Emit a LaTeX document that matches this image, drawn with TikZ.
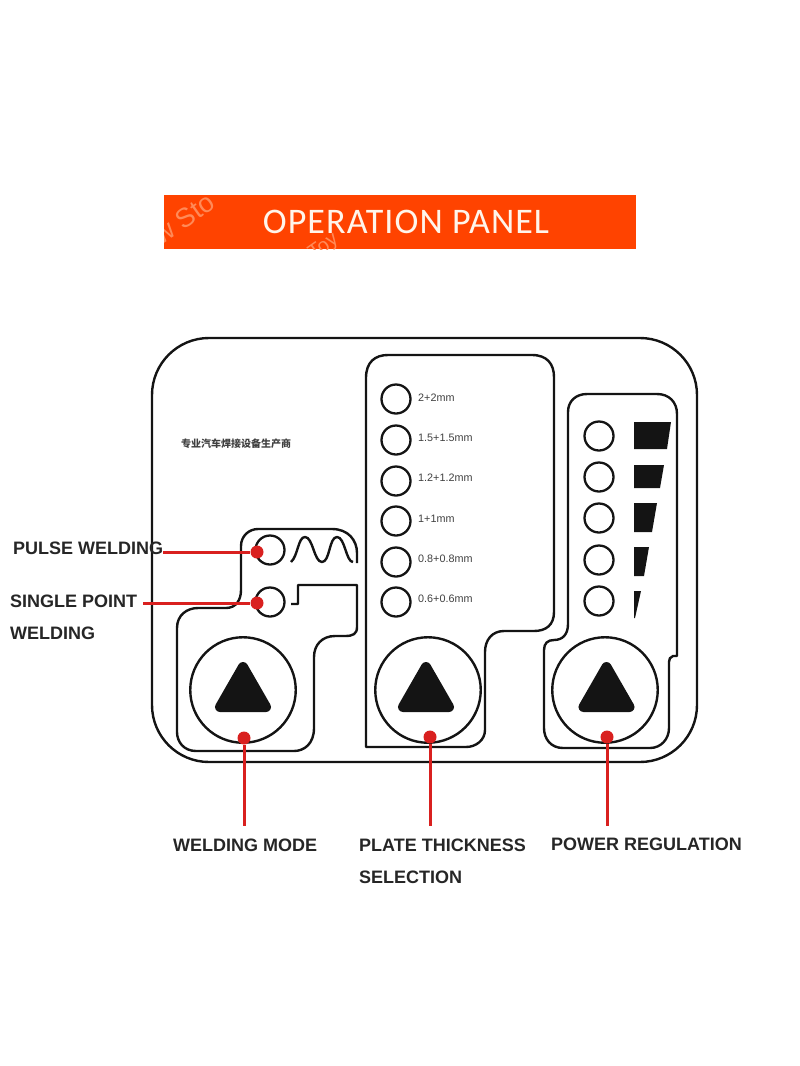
\documentclass[tikz,border=0pt]{standalone}
\usepackage{fontspec}
\setmainfont{Liberation Sans}
\newfontfamily\titlefont[LetterSpace=3]{Carlito}
\newfontfamily\markfont{Liberation Sans}
\newfontfamily\cjkfont{Noto Sans CJK SC}
\definecolor{pointer}{HTML}{D9201F}
\definecolor{banner}{HTML}{FF4300}
\definecolor{stamp}{HTML}{FF8A58}
\tikzset{
  panel/.style={draw=black!92,line width=2.4pt,line join=round},
  lamp/.style={circle,draw=black!92,line width=2.3pt,minimum size=29pt,inner sep=0pt},
  knob/.style={circle,draw=black!92,line width=2.4pt,minimum size=105.5pt,inner sep=0pt},
  tip/.style={circle,fill=pointer,minimum size=13pt,inner sep=0pt},
  lead/.style={draw=pointer,line width=3pt},
  callout/.style={font=\bfseries\fontsize{18}{21}\selectfont,text=black!85,anchor=west,inner sep=0pt},
  thick label/.style={font=\fontsize{10.8}{13}\selectfont,text=black!75,anchor=west,inner sep=0pt},
  bar/.style={fill=black!92,draw=none},
  triangle/.style={fill=black!92,draw=black!92,line width=10pt,line join=round},
  stamp text/.style={font=\markfont\fontsize{27}{29}\selectfont,text=stamp,rotate=35,anchor=west,inner sep=0pt}
}
\begin{document}
\begin{tikzpicture}[x=1pt,y=-1pt]
\useasboundingbox (0,0) rectangle (800,1066);

% title banner
\node[fill=banner,minimum width=472pt,minimum height=54pt,inner sep=0pt] (bannerbox) at (400,222) {};
\begin{scope}
  \clip (164,195) rectangle (636,249);
  \node[font=\markfont\fontsize{27}{29}\selectfont,text=stamp,rotate=35,anchor=west,inner sep=0pt] (stampa) at (156,238) {w Sto};
  \node[font=\markfont\fontsize{20}{22}\selectfont,text=stamp,rotate=35,anchor=west,inner sep=0pt] (stampb) at (311,256) {Toy};
\end{scope}
\node[font=\titlefont\fontsize{36}{38}\selectfont,text=white!92!orange] (title) at (406,222) {OPERATION PANEL};

% outer panel
\draw[panel] (152,395) arc[start angle=180,end angle=270,radius=57] -- (640,338)
  arc[start angle=270,end angle=360,radius=57] -- (697,705)
  arc[start angle=0,end angle=90,radius=57] -- (209,762)
  arc[start angle=90,end angle=180,radius=57] -- cycle;

% welding mode outline
\draw[panel] (357,563) -- (357,553) .. controls (357,540) and (348,529) .. (332,529)
  -- (258,529) .. controls (249,529) and (241,536) .. (241,546)
  -- (241,590) .. controls (241,600) and (236,608) .. (226,608)
  -- (198,608) .. controls (187,608) and (177,615) .. (177,628)
  -- (177,732) .. controls (177,742) and (184,751) .. (196,751)
  -- (294,751) .. controls (304,751) and (314,744) .. (314,728)
  -- (314,657) .. controls (314,645) and (322,636) .. (335,636)
  -- (345,636) .. controls (353,636) and (357,634) .. (357,627)
  -- (357,585) -- (298,585) -- (298,604) -- (291,604);

% pulse waveform
\draw[panel] (291,562) .. controls (298,556) and (298,537) .. (305,537)
  .. controls (313,537) and (314,562) .. (322,562)
  .. controls (330,562) and (329,537) .. (337,537)
  .. controls (345,537) and (346,562) .. (353,562);

% plate thickness outline
\draw[panel] (366,747) -- (366,378) .. controls (366,362) and (375,355) .. (388,355)
  -- (532,355) .. controls (547,355) and (554,364) .. (554,377)
  -- (554,612) .. controls (554,625) and (546,631) .. (534,631)
  -- (504,631) .. controls (492,631) and (485,640) .. (485,652)
  -- (485,730) .. controls (485,740) and (476,747) .. (466,747)
  -- cycle;

% power regulation outline
\draw[panel] (568,412) .. controls (568,401) and (576,394) .. (587,394)
  -- (657,394) .. controls (669,394) and (677,402) .. (677,414)
  -- (677,656) -- (673,656) .. controls (670,657) and (669,659) .. (669,662)
  -- (669,728) .. controls (669,739) and (661,748) .. (650,748)
  -- (563,748) .. controls (551,748) and (544,739) .. (544,728)
  -- (544,650) .. controls (544,643) and (548,640) .. (554,640)
  .. controls (563,640) and (568,634) .. (568,624)
  -- cycle;

% indicator lamps
\node[lamp] (pulselamp) at (270,550) {};
\node[lamp] (singlelamp) at (270,602) {};
\foreach \n/\y in {a/399,b/440,c/481,d/521,e/562,f/602}
  \node[lamp] (thick\n) at (396,\y) {};
\foreach \n/\y in {a/436,b/477,c/518,d/560,e/601}
  \node[lamp] (power\n) at (599,\y) {};

% thickness labels
\node[thick label] (la) at (418,398) {2+2mm};
\node[thick label] (lb) at (418,438) {1.5+1.5mm};
\node[thick label] (lc) at (418,478) {1.2+1.2mm};
\node[thick label] (ld) at (418,519) {1+1mm};
\node[thick label] (le) at (418,559) {0.8+0.8mm};
\node[thick label] (lf) at (418,599) {0.6+0.6mm};

% power level bars
\fill[bar] (634,422) -- (671,422) -- (667,449) -- (634,449) -- cycle;
\fill[bar] (634,465) -- (664,465) -- (660,488) -- (634,488) -- cycle;
\fill[bar] (634,503) -- (657,503) -- (652,532) -- (634,532) -- cycle;
\fill[bar] (634,547) -- (649,547) -- (644,576) -- (634,576) -- cycle;
\fill[bar] (634,591) -- (641,591) -- (635,618) -- (634,618) -- cycle;

% maker line
\node[font=\cjkfont\bfseries\fontsize{10}{12}\selectfont,text=black!75] (maker) at (236,444) {专业汽车焊接设备生产商};

% control knobs with triangles
\node[knob] (modeknob) at (243,690) {};
\node[knob] (plateknob) at (428,690) {};
\node[knob] (powerknob) at (605,690) {};
\foreach \c in {243,426,606.5}
  \draw[triangle] (\c,667) -- (\c+23,707) -- (\c-23,707) -- cycle;

% callout text
\node[callout] (pulse) at (13,548) {PULSE WELDING};
\node[callout] (single) at (10,601) {SINGLE POINT};
\node[callout] (single2) at (10,633) {WELDING};
\node[callout] (mode) at (173,845) {WELDING MODE};
\node[callout] (plate) at (359,845) {PLATE THICKNESS};
\node[callout] (plate2) at (359,877) {SELECTION};
\node[callout] (power) at (551,844) {POWER REGULATION};

% pointer dots and leaders
\coordinate (pulsefree) at (163,552);
\coordinate (singlefree) at (143,603);
\coordinate (modefree) at (244,826);
\coordinate (platefree) at (430,826);
\coordinate (powerfree) at (607,826);
\node[tip] (pulsetip) at (257,552) {};
\node[tip] (singletip) at (257,603) {};
\node[tip] (modetip) at (244,738) {};
\node[tip] (platetip) at (430,737) {};
\node[tip] (powertip) at (607,737) {};
\draw[lead] (pulsefree) -- (pulsetip);
\draw[lead] (singlefree) -- (singletip);
\draw[lead] (modetip) -- (modefree);
\draw[lead] (platetip) -- (platefree);
\draw[lead] (powertip) -- (powerfree);
\end{tikzpicture}
\end{document}
